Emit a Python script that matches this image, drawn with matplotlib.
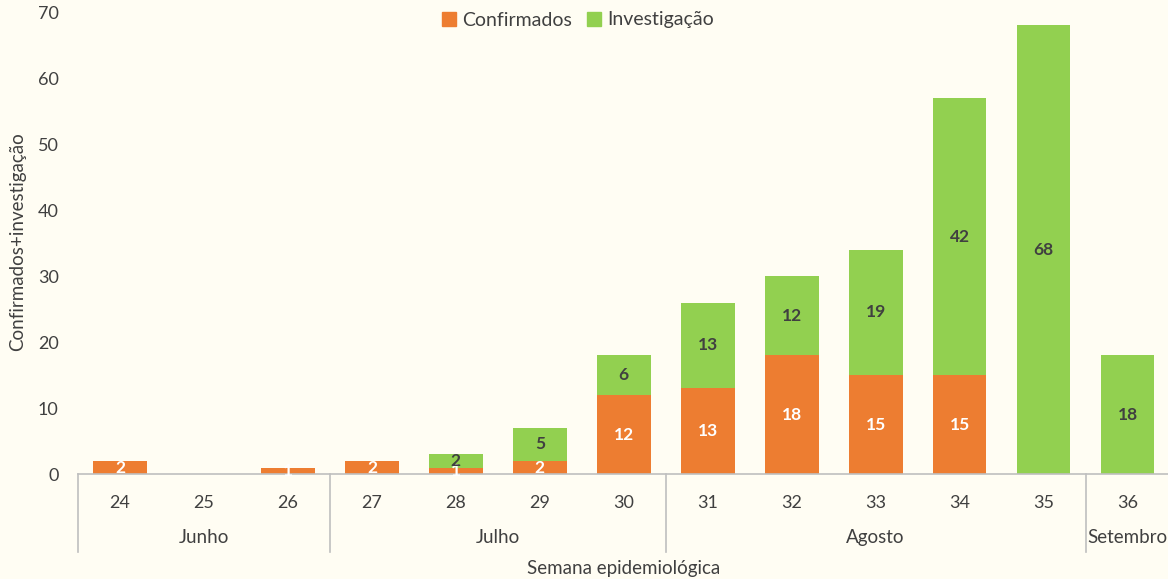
import matplotlib
matplotlib.use("Agg")
import matplotlib.pyplot as plt
import matplotlib.transforms as mtransforms
from matplotlib.patches import Patch

weeks = ["24", "25", "26", "27", "28", "29", "30", "31", "32", "33", "34", "35", "36"]
confirmados = [2, 0, 1, 2, 1, 2, 12, 13, 18, 15, 15, 0, 0]
investigacao = [0, 0, 0, 0, 2, 5, 6, 13, 12, 19, 42, 68, 18]
months = ["Junho", "Julho", "Agosto", "Setembro"]
month_spans = [(0, 2), (3, 6), (7, 11), (12, 12)]

orange = "#ED7D31"
green = "#92D050"
bg = "#FFFDF3"
txt = "#404040"
grid_c = "#BFBFBF"

plt.rcParams['font.family'] = ['Lato', 'DejaVu Sans']

fig = plt.figure(figsize=(11.68, 5.79), dpi=100, facecolor=bg)
ax = fig.add_axes([0.0668, 0.181, 0.9345, 0.798])
ax.set_facecolor(bg)

x = list(range(len(weeks)))
w = 0.64
ax.bar(x, confirmados, width=w, color=orange, label="Confirmados", zorder=2)
ax.bar(x, investigacao, width=w, bottom=confirmados, color=green, label="Investigação", zorder=2)

for i in x:
    c = confirmados[i]
    v = investigacao[i]
    if c > 0:
        ax.text(i, c / 2, str(c), ha="center", va="center", color="white",
                fontsize=12.5, fontweight="bold", zorder=3)
    if v > 0:
        ax.text(i, c + v / 2, str(v), ha="center", va="center", color=txt,
                fontsize=12.5, fontweight="bold", zorder=3)

ax.set_xlim(-0.5, len(weeks) - 0.5)
ax.set_ylim(0, 70)
ax.set_yticks(range(0, 71, 10))
ax.tick_params(axis="y", length=0, labelsize=13, labelcolor=txt, pad=14)
ax.set_xticks(x)
ax.set_xticklabels(weeks)
ax.tick_params(axis="x", length=0, labelsize=13, labelcolor=txt, pad=15)

for s in ["top", "right", "left"]:
    ax.spines[s].set_visible(False)
ax.spines["bottom"].set_color(grid_c)
ax.spines["bottom"].set_linewidth(1.2)

trans = mtransforms.blended_transform_factory(ax.transData, ax.transAxes)
axh = 0.798 * 5.79 * 100  # axes height in px
sep_depth = 78 / axh
bounds = [-0.5] + [e + 0.5 for (_, e) in month_spans[:-1]]
for b in bounds:
    ax.plot([b, b], [0, -sep_depth], transform=trans, color=grid_c, lw=1.2, clip_on=False)
for name, (s, e) in zip(months, month_spans):
    ax.text((s + e) / 2, -63 / axh, name, transform=trans, ha="center", va="center",
            fontsize=13.5, color=txt)

ax.text(0.5, -94 / axh, "Semana epidemiológica", transform=ax.transAxes, ha="center",
        va="center", fontsize=13.5, color=txt)
fig.text(18 / 1168, 1 - 242 / 579, "Confirmados+investigação", rotation=90, ha="center",
         va="center", fontsize=13.5, color=txt)

handles = [Patch(color=orange, label="Confirmados"), Patch(color=green, label="Investigação")]
fig.legend(handles=handles, loc="center", bbox_to_anchor=(578 / 1168, 1 - 20 / 579),
           ncol=2, frameon=False, fontsize=14, handlelength=0.7, handleheight=0.7,
           handletextpad=0.3, columnspacing=0.8, labelcolor=txt)

fig.savefig("out.png", dpi=100, facecolor=bg)
